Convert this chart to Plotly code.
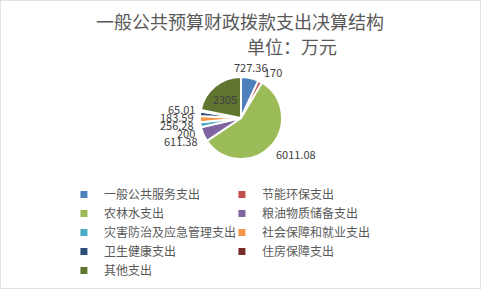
import math
import plotly.graph_objects as go

categories = ["一般公共服务支出", "节能环保支出", "农林水支出", "粮油物质储备支出",
              "灾害防治及应急管理支出", "社会保障和就业支出", "卫生健康支出", "住房保障支出", "其他支出"]
values = [727.36, 170, 6011.08, 611.38, 200, 256.28, 183.59, 65.01, 2305]
value_labels = ["727.36", "170", "6011.08", "611.38", "200", "256.28", "183.59", "65.01", "2305"]
colors = ["#4F81BD", "#C0504D", "#9BBB59", "#8064A2", "#4BACC6", "#F79646", "#2C4D75", "#772C2A", "#5F7530"]
title_line1 = "一般公共预算财政拨款支出决算结构"
title_line2 = "单位：万元"

W, H = 481, 289
font = "Noto Sans CJK SC"
label_color = "#404040"

# pie geometry (pixels)
CX, CY, R = 241, 118, 41
inside_idx = {8}

fig = go.Figure()
fig.add_trace(go.Pie(
    labels=categories, values=values,
    text=[value_labels[i] if i in inside_idx else "" for i in range(len(values))],
    textinfo="text",
    textposition=["inside" if i in inside_idx else "none" for i in range(len(values))],
    sort=False, direction="clockwise", rotation=0,
    marker=dict(colors=colors, line=dict(color="white", width=2)),
    insidetextorientation="horizontal",
    insidetextfont=dict(family=font, size=11, color=label_color),
    domain=dict(x=[(CX - R) / W, (CX + R) / W], y=[1 - (CY + R) / H, 1 - (CY - R) / H]),
    showlegend=False, hoverinfo="label+value+percent",
))

# legend entries with small square markers
for name, col in zip(categories, colors):
    fig.add_trace(go.Scatter(x=[None], y=[None], mode="markers", name=name,
                             marker=dict(symbol="square", size=7, color=col, line=dict(width=0)),
                             showlegend=True, hoverinfo="skip"))

# outside data labels positioned from slice mid-angles
total = sum(values)
cum = 0.0
labels_info = []
off = R + 4
half_h = 7
for i, v in enumerate(values):
    mid = (cum + v / 2) / total * 2 * math.pi
    cum += v
    if i in inside_idx:
        continue
    s, c = math.sin(mid), math.cos(mid)
    px = CX + off * s
    py = CY - off * c - c * half_h
    xa = "left" if s > 0.3 else ("right" if s < -0.3 else "center")
    labels_info.append([i, px, py, xa, s])

# simple top-down de-overlap for left-side labels
left = sorted([l for l in labels_info if l[4] < 0], key=lambda l: l[2])
for k in range(1, len(left)):
    if left[k][2] < left[k - 1][2] + 8:
        left[k][2] = left[k - 1][2] + 8

annotations = []
for i, px, py, xa, s in labels_info:
    annotations.append(dict(text=value_labels[i], x=px / W, y=1 - py / H, xref="paper", yref="paper",
                            showarrow=False, xanchor=xa, yanchor="middle",
                            font=dict(family=font, size=11, color=label_color)))

annotations += [
    dict(text=title_line1, x=240 / W, y=1 - 21 / H, xref="paper", yref="paper",
         showarrow=False, xanchor="center", yanchor="middle",
         font=dict(family=font, size=18, color="#595959")),
    dict(text=title_line2, x=292 / W, y=1 - 46 / H, xref="paper", yref="paper",
         showarrow=False, xanchor="center", yanchor="middle",
         font=dict(family=font, size=18, color="#595959")),
]

fig.update_layout(
    width=W, height=H,
    margin=dict(l=0, r=0, t=0, b=0),
    paper_bgcolor="white", plot_bgcolor="white",
    font=dict(family=font, color="#595959"),
    xaxis=dict(visible=False), yaxis=dict(visible=False),
    legend=dict(orientation="h", x=75 / W, y=1 - 180 / H, xanchor="left", yanchor="top",
                entrywidth=113, entrywidthmode="pixels", traceorder="normal",
                font=dict(family=font, size=12, color="#595959"),
                itemwidth=30, tracegroupgap=0, bgcolor="rgba(0,0,0,0)"),
    annotations=annotations,
    shapes=[dict(type="rect", xref="paper", yref="paper", x0=0, y0=0, x1=1, y1=1,
                 line=dict(color="#D9D9D9", width=1.5), fillcolor="rgba(0,0,0,0)")],
)

fig.write_html("out.html")
